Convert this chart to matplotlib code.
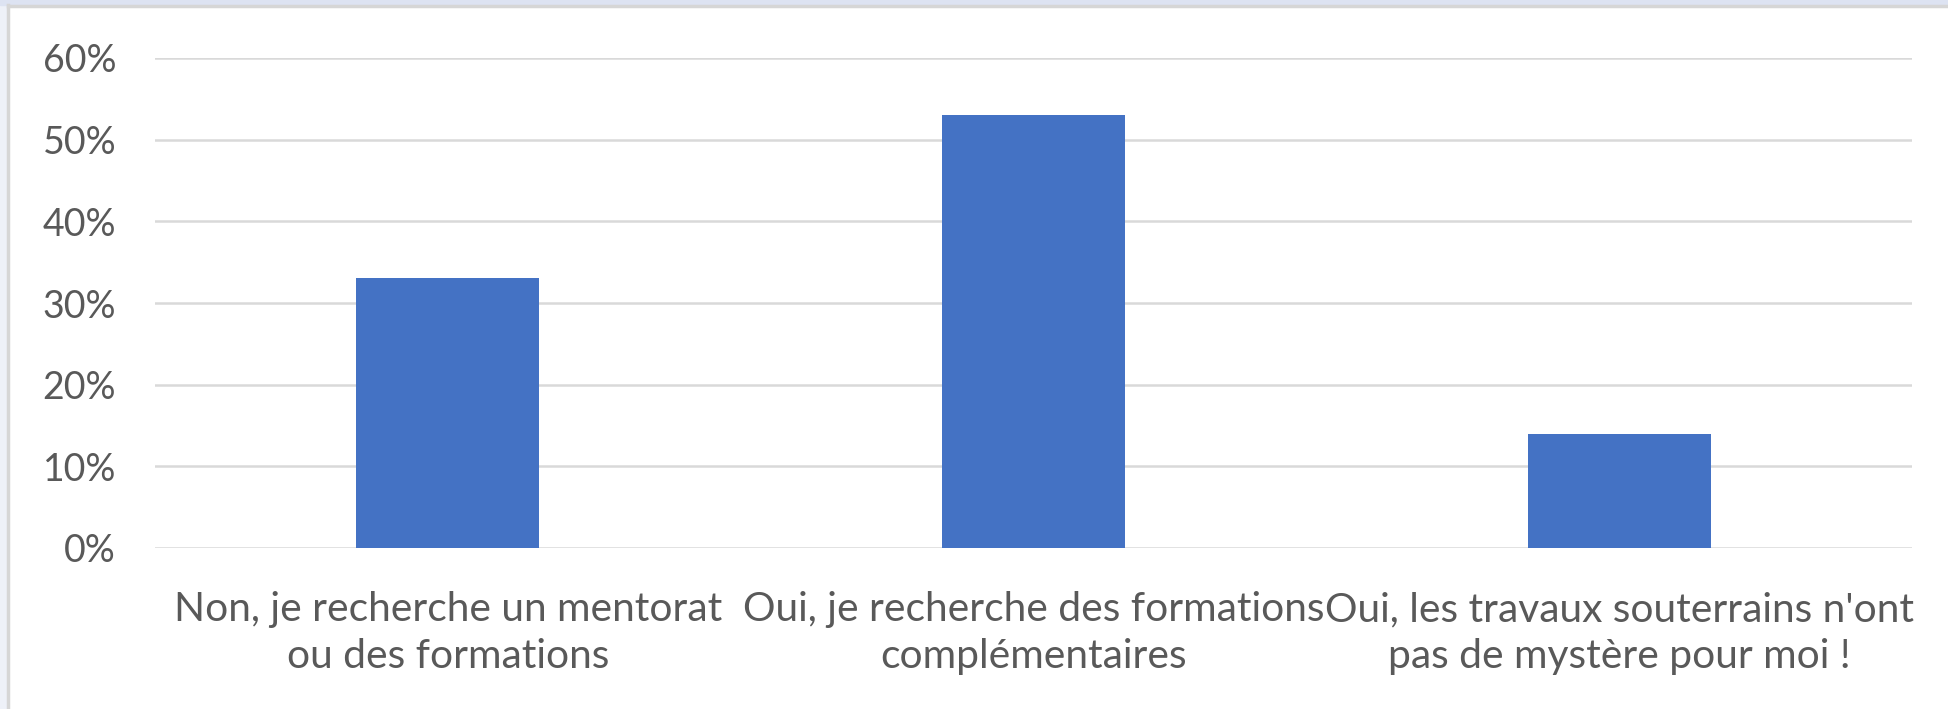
import matplotlib.pyplot as plt
from matplotlib.ticker import PercentFormatter
from matplotlib.patches import Rectangle
from matplotlib.lines import Line2D

# données du graphique
categories = [
    "Non, je recherche un mentorat\nou des formations",
    "Oui, je recherche des formations\ncomplémentaires",
    "Oui, les travaux souterrains n'ont\npas de mystère pour moi !",
]
valeurs = [0.33, 0.53, 0.14]
graduations = [0.0, 0.1, 0.2, 0.3, 0.4, 0.5, 0.6]

plt.rcParams['font.family'] = ['Lato', 'DejaVu Sans']
gris_texte = '#595959'

fig = plt.figure(figsize=(19.49, 7.09), dpi=100)
ax = fig.add_axes([155 / 1949, 161 / 709, (1912 - 155) / 1949, (651 - 161) / 709])

x = range(len(categories))
ax.bar(x, valeurs, width=0.3125, color='#4472c4', zorder=3)

ax.set_xlim(-0.5, len(categories) - 0.5)
ax.set_ylim(0, 0.6)
ax.set_yticks(graduations)
ax.yaxis.set_major_formatter(PercentFormatter(1.0, decimals=0))
ax.set_xticks(list(x))
ax.set_xticklabels(categories, linespacing=1.33, fontsize=29.3)

ax.grid(axis='y', color='#d9d9d9', linewidth=1.8, zorder=0)
for s in ax.spines.values():
    s.set_visible(False)
ax.tick_params(axis='both', length=0, colors=gris_texte)
ax.tick_params(axis='y', pad=28, labelsize=27)
ax.tick_params(axis='x', pad=31)

# cadre de la capture (bord gauche et haut)
fig.patches.append(Rectangle((0, 0), 7 / 1949, 1, transform=fig.transFigure,
                             color='#eef1f8', zorder=0))
fig.patches.append(Rectangle((0, 1 - 5 / 709), 1, 5 / 709, transform=fig.transFigure,
                             color='#dde3f2', zorder=0))
fig.lines.append(Line2D([8 / 1949, 8 / 1949], [0, 1 - 5 / 709], transform=fig.transFigure,
                        color='#d6d6d6', linewidth=2.5))
fig.lines.append(Line2D([8 / 1949, 1], [1 - 6 / 709, 1 - 6 / 709], transform=fig.transFigure,
                        color='#d6d6d6', linewidth=2.5))

fig.savefig('out.png', dpi=100)
